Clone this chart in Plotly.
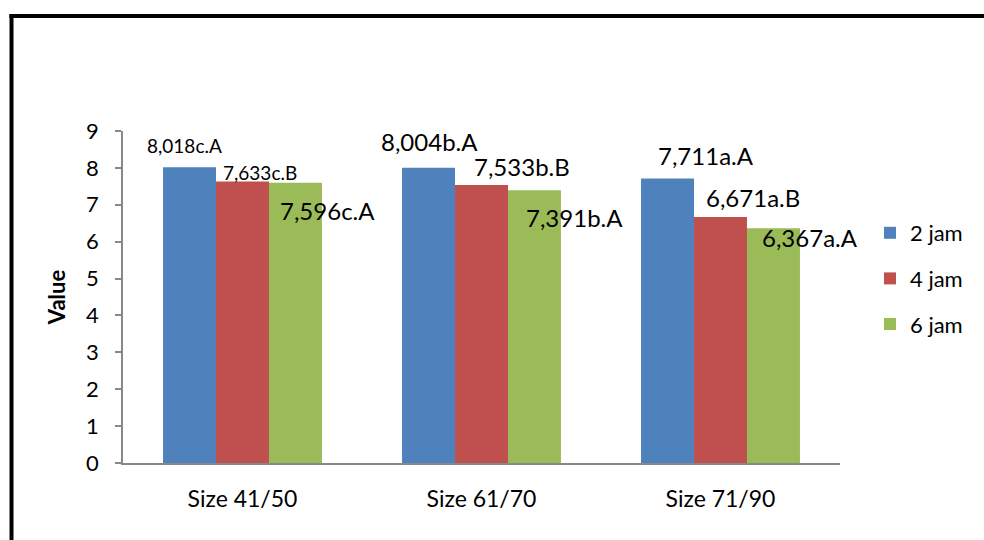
import plotly.graph_objects as go

# Chart data
categories = ["Size 41/50", "Size 61/70", "Size 71/90"]
series_names = ["2 jam", "4 jam", "6 jam"]
values = {
    "2 jam": [8.018, 8.004, 7.711],
    "4 jam": [7.633, 7.533, 6.671],
    "6 jam": [7.596, 7.391, 6.367],
}
labels = {
    "2 jam": ["8,018c.A", "8,004b.A", "7,711a.A"],
    "4 jam": ["7,633c.B", "7,533b.B", "6,671a.B"],
    "6 jam": ["7,596c.A", "7,391b.A", "6,367a.A"],
}
y_ticks = [0, 1, 2, 3, 4, 5, 6, 7, 8, 9]

colors = {"2 jam": "#4F81BD", "4 jam": "#C0504D", "6 jam": "#9BBB59"}

# Label placement (pixel offsets from group centre / bar top) and font size
label_dx = {"2 jam": [-58, -52, -15], "4 jam": [17, 40, 32], "6 jam": [85, 93, 89]}
label_dy = {"2 jam": [22, 26, 23], "4 jam": [9, 19, 19], "6 jam": [-28, -27, -9]}
label_size = {"2 jam": [19, 24, 24], "4 jam": [19, 24, 24], "6 jam": [24, 24, 24]}

FONT = "Lato, 'Open Sans', sans-serif"
W, H = 984, 540
ML, MR, MT, MB = 123, 144, 131, 77
PW, PH = W - ML - MR, H - MT - MB

fig = go.Figure()
for i, name in enumerate(series_names):
    fig.add_trace(go.Bar(
        x=categories, y=values[name], name=name,
        marker=dict(color=colors[name], line=dict(width=0)),
        legendgroup=name,
    ))
    for j, cat in enumerate(categories):
        fig.add_annotation(
            x=cat, y=values[name][j], text=labels[name][j],
            showarrow=False, xshift=label_dx[name][j], yshift=label_dy[name][j],
            font=dict(family=FONT, size=label_size[name][j], color="#000"),
            xanchor="center", yanchor="middle",
        )

# Outer frame (left and top edges)
def px_x(p):
    return (p - ML) / PW

def px_y(p):
    return (H - MB - p) / PH

fig.add_shape(type="line", xref="paper", yref="paper",
              x0=px_x(11.5), x1=px_x(11.5), y0=px_y(14), y1=px_y(560),
              line=dict(color="#000", width=4))
fig.add_shape(type="line", xref="paper", yref="paper",
              x0=px_x(9.5), x1=px_x(1000), y0=px_y(16), y1=px_y(16),
              line=dict(color="#000", width=4))

fig.update_layout(
    width=W, height=H,
    margin=dict(l=ML, r=MR, t=MT, b=MB, autoexpand=False),
    paper_bgcolor="white", plot_bgcolor="white",
    barmode="group", bargap=0.335, bargroupgap=0,
    font=dict(family=FONT, size=20, color="#000"),
    showlegend=True,
    legend=dict(
        x=px_x(870), y=px_y(212), xanchor="left", yanchor="top",
        traceorder="grouped", tracegroupgap=14,
        font=dict(family=FONT, size=22, color="#000"),
        itemwidth=30, bgcolor="rgba(0,0,0,0)",
    ),
    xaxis=dict(
        range=[-0.5, len(categories) - 0.5], autorange=False,
        showline=True, linecolor="#888", linewidth=1.5,
        showgrid=False, ticks="", ticklabelstandoff=15,
        tickfont=dict(family=FONT, size=23),
    ),
    yaxis=dict(
        range=[0, 9], autorange=False, tickvals=y_ticks,
        showline=True, linecolor="#888", linewidth=1.5,
        showgrid=False, zeroline=False,
        ticks="outside", ticklen=6, tickcolor="#888", tickwidth=1.5,
        ticklabelstandoff=12,
        tickfont=dict(family=FONT, size=22),
        title=dict(text="<b>Value</b>", font=dict(family=FONT, size=22), standoff=14),
    ),
)

fig.write_html("out.html")
